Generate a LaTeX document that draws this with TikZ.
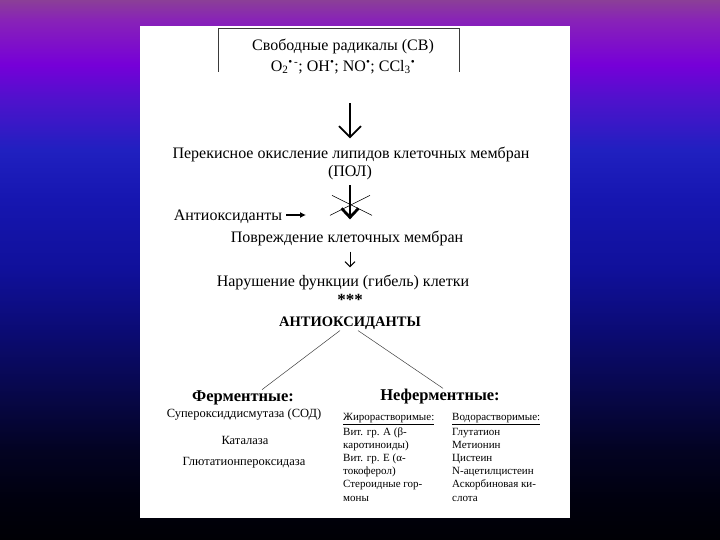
\documentclass[tikz,border=0pt]{standalone}
\usepackage{fontspec}
\setmainfont{Liberation Serif}
\usetikzlibrary{arrows.meta, positioning, calc}
\definecolor{bgK}{HTML}{8B3F97}
\definecolor{bgJ}{HTML}{8822B8}
\definecolor{bgI}{HTML}{7600D8}
\definecolor{bgH}{HTML}{4E12CC}
\definecolor{bgG}{HTML}{2020C0}
\definecolor{bgF}{HTML}{1616B0}
\definecolor{bgE}{HTML}{10109A}
\definecolor{bgD}{HTML}{0B0B74}
\definecolor{bgC}{HTML}{070745}
\definecolor{bgB}{HTML}{030322}
\definecolor{bgA}{HTML}{00000E}
\definecolor{bgBlack}{HTML}{000005}
\definecolor{boxGray}{HTML}{3A3A3A}
\pgfdeclareverticalshading{slideBg}{100bp}{color(0bp)=(bgBlack); color(25bp)=(bgBlack);
  color(28.7bp)=(bgA); color(33.3bp)=(bgB); color(38bp)=(bgC); color(44.4bp)=(bgD);
  color(50bp)=(bgE); color(56.5bp)=(bgF); color(61.1bp)=(bgG); color(65.7bp)=(bgH);
  color(69bp)=(bgI); color(73.1bp)=(bgJ); color(75bp)=(bgK); color(100bp)=(bgK)}
\newcommand{\radDot}{\textsuperscript{•}}
\tikzset{
  txtMain/.style={font=\fontsize{16}{18}\selectfont, inner sep=1pt},
  txtHead/.style={font=\fontsize{16.5}{19}\selectfont\bfseries, inner sep=1pt},
  txtSmall/.style={font=\fontsize{12.5}{14}\selectfont, inner sep=1pt},
  txtList/.style={font=\fontsize{11}{13}\selectfont, anchor=base west, inner sep=0pt},
  arrowBig/.style={-{Straight Barb[length=11pt, width=22pt, line width=1.7pt]}, line width=1.5pt},
  arrowCut/.style={-{Straight Barb[length=9pt, width=17pt, line width=2.8pt]}, line width=2.2pt},
  arrowThin/.style={-{Straight Barb[length=5pt, width=10pt, line width=1pt]}, line width=1pt},
  arrowText/.style={-{Latex[length=6pt, width=6pt]}, line width=1.1pt},
  branch/.style={line width=0.5pt, black!75},
}
\begin{document}
\begin{tikzpicture}[x=1pt, y=-1pt]
  \useasboundingbox (0,0) rectangle (720,540);
  \shade[shading=slideBg] (0,0) rectangle (720,540);
  \fill[white] (140,26) rectangle (570,518);

  \node[txtMain] (cv) at (343,46) {Свободные радикалы (СВ)};
  \node[txtMain] (cvList) at (343,67)
    {O\textsubscript{2}\textsuperscript{•\,-}; OH\radDot; NO\radDot; CCl\textsubscript{3}\radDot};
  \draw[boxGray, line width=1pt] (218,72) |- (459,29) -- (459,72);

  \node[txtMain] (pol) at (351,154) {Перекисное окисление липидов клеточных мембран};
  \node[txtMain] (polAbbr) at (350,173) {(ПОЛ)};
  \node[txtMain] (dmg) at (347,238) {Повреждение клеточных мембран};
  \node[txtMain] (fail) at (343,282) {Нарушение функции (гибель) клетки};
  \node[txtMain, font=\fontsize{17}{19}\selectfont\bfseries] (stars) at (350,300) {***};
  \node[txtMain, font=\fontsize{14.5}{17}\selectfont\bfseries] (aox) at (350,323) {АНТИОКСИДАНТЫ};

  \draw[arrowBig, shorten <=28pt, shorten >=7pt] (cvList.south -| polAbbr) -- (pol.north -| polAbbr);
  \draw[arrowCut, shorten <=4pt, shorten >=10pt] (polAbbr) -- (polAbbr |- dmg.north)
    coordinate[pos=0.5] (cutMid);
  \draw[line width=0.6pt] ($(cutMid)+(-20,10)$) -- ($(cutMid)+(20,-10)$);
  \draw[line width=0.6pt] ($(cutMid)+(-18,-10)$) -- ($(cutMid)+(22,10)$);
  \node[txtMain] (aoxLeft) at (228,217) {Антиоксиданты};
  \coordinate (aoxTip) at (306,215);
  \draw[arrowText, shorten <=3pt] (aoxLeft.east |- aoxTip) -- (aoxTip);
  \draw[arrowThin, shorten <=5pt, shorten >=6pt] (dmg.south -| polAbbr) -- (fail.north -| polAbbr);

  \node[txtHead] (enz) at (243,398) {Ферментные:};
  \node[txtHead] (nonEnz) at (440,397) {Неферментные:};
  \draw[branch] ([xshift=-10pt]aox.south) -- ([xshift=19pt]enz.north);
  \draw[branch] ([xshift=8pt]aox.south) -- ([xshift=3pt]nonEnz.north);

  \node[txtSmall] (sod) at (244,415) {Супероксиддисмутаза (СОД)};
  \node[txtSmall] (cat) at (245,440) {Каталаза};
  \node[txtSmall] (gpx) at (244,463) {Глютатионпероксидаза};

  \node[txtList] (fatHead) at (343,420.5) {\underline{Жирорастворимые:}};
  \node[txtList] (waterHead) at (452,420.5) {\underline{Водорастворимые:}};
  \foreach \w [count=\i] in {{Вит. гр. А (β-}, {каротиноиды)}, {Вит. гр. Е (α-},
      {токоферол)}, {Стероидные гор-}, {моны}} {
    \node[txtList] (fat\i) at (343,{435.5+13.1*(\i-1)}) {\w};
  }
  \foreach \w [count=\i] in {Глутатион, Метионин, Цистеин, N-ацетилцистеин,
      {Аскорбиновая ки-}, слота} {
    \node[txtList] (water\i) at (452,{435.5+13.1*(\i-1)}) {\w};
  }
\end{tikzpicture}
\end{document}
